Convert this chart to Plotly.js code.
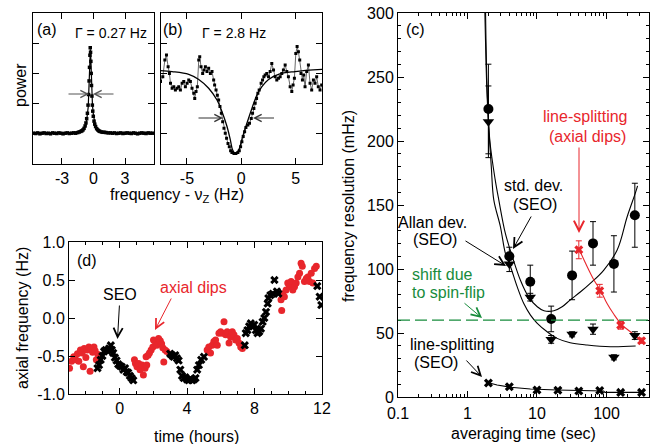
<!DOCTYPE html>
<html><head><meta charset="utf-8">
<script src="https://cdn.plot.ly/plotly-3.0.1.min.js"></script>
<style>html,body{margin:0;padding:0;background:#fff}#chart{width:660px;height:444px}</style>
</head><body><div id="chart"></div>
<script>
// ---------- panel (a): narrow resonance ----------
const aFreq = [-5.7,-5.5,-5.3,-5.1,-4.9,-4.7,-4.5,-4.3,-4.1,-3.9,-3.7,-3.5,-3.3,-3.1,-2.9,-2.7,-2.5,-2.3,-2.1,-1.9,-1.7,-1.5,
  -1.35,-1.2,-1.1,-1.0,-0.9,-0.8,-0.72,-0.65,-0.58,-0.52,-0.47,-0.42,-0.38,-0.34,-0.31,-0.28,-0.25,-0.22,-0.19,-0.15,-0.11,-0.07,-0.02,0.05,0.12,0.2,0.3,0.4,0.5,0.6,0.75,0.9,
  1.05,1.2,1.4,1.6,1.8,2.0,2.2,2.4,2.6,2.8,3.0,3.2,3.4,3.6,3.8,4.0,4.2,4.4,4.6,4.8,5.0,5.2,5.4,5.6];
const aPower = [1.02,1.01,1.03,1.00,1.02,1.03,1.01,1.02,1.00,1.03,1.02,1.01,1.03,1.02,1.00,1.02,1.03,1.01,1.02,1.03,1.02,1.04,
  1.06,1.08,1.10,1.13,1.18,1.26,1.36,1.5,1.68,1.95,2.3,2.75,3.2,3.6,3.85,3.7,3.4,3.0,2.6,2.25,1.95,1.75,1.58,1.42,1.32,1.24,1.17,1.13,1.1,1.08,1.06,1.05,
  1.05,1.04,1.03,1.03,1.02,1.03,1.01,1.02,1.03,1.01,1.02,1.03,1.02,1.01,1.03,1.02,1.00,1.02,1.03,1.02,1.01,1.03,1.02,1.02];
const aFitFreq = [-5.76,-2,-1,-0.7,-0.5,-0.4,-0.34,-0.3,-0.26,-0.2,-0.1,0,0.2,0.5,1,2,5.76];
const aFitPower = [1.02,1.04,1.12,1.3,1.9,2.8,3.55,3.8,3.55,2.85,1.95,1.6,1.25,1.1,1.05,1.03,1.02];

// ---------- panel (b): broad dip ----------
const bFreq = [-7.43,-7.22,-7.03,-6.88,-6.73,-6.61,-6.51,-6.36,-6.21,-6.06,-5.90,-5.75,-5.60,-5.44,-5.29,-5.14,-4.98,-4.83,-4.68,-4.53,-4.37,-4.28,-4.16,-4.04,-3.91,-3.82,-3.70,-3.55,-3.43,-3.30,-3.15,-3.00,-2.84,-2.69,-2.54,-2.45,-2.32,-2.20,-2.08,-1.96,-1.83,-1.71,-1.59,-1.47,-1.35,-1.22,-1.10,-0.98,-0.86,-0.67,-0.49,-0.31,-0.18,-0.06,0.06,0.18,0.31,0.43,0.61,0.76,0.92,1.04,1.16,1.28,1.41,1.53,1.65,1.83,1.96,2.08,2.20,2.35,2.51,2.66,2.81,2.97,3.12,3.27,3.43,3.58,3.73,3.88,4.04,4.19,4.34,4.50,4.65,4.77,4.89,5.02,5.14,5.26,5.38,5.50,5.63,5.75,5.87,6.02,6.18,6.33,6.48,6.64,6.79,6.94,7.09,7.25,7.40];
const bPower = [2.73,2.89,3.44,3.61,3.22,3.00,2.67,2.51,2.56,2.45,2.51,2.56,2.45,2.67,2.73,2.56,2.67,2.78,2.73,2.51,2.34,2.17,2.40,2.56,3.44,3.55,3.22,3.00,3.11,3.22,3.06,3.17,3.00,3.06,2.78,2.62,2.45,2.28,2.12,1.90,1.68,1.40,1.18,1.02,0.85,0.68,0.57,0.44,0.38,0.35,0.35,0.38,0.44,0.57,0.74,0.91,1.07,1.21,1.29,1.35,1.51,1.68,1.84,2.01,2.17,2.34,2.45,2.67,2.78,2.89,2.95,3.00,2.89,3.06,3.33,3.11,2.89,2.78,2.84,2.89,3.00,3.11,3.28,3.06,2.89,2.56,2.40,2.62,2.84,3.66,3.89,3.72,3.44,3.00,2.78,2.95,2.56,3.06,3.28,2.67,2.45,2.78,2.67,2.89,2.56,2.45,2.62];
const bFitFreq = [-7.43,-6.36,-4.83,-3.91,-3.0,-2.23,-1.77,-1.31,-1.0,-0.79,-0.55,-0.24,0.12,0.52,0.98,1.44,1.90,2.51,3.42,4.95,7.43];
const bFitPower = [3.09,3.06,2.97,2.80,2.51,2.12,1.73,1.24,0.79,0.46,0.35,0.46,0.90,1.35,1.84,2.28,2.56,2.80,2.97,3.06,3.13];

// ---------- panel (c): frequency resolution ----------
const tau = [2,4,8,16,32,64,128,256];
const stdDev = [225,110,90,61,95,120,104,142];
const stdDevErr = [35,7,13,10,19,17,22,25];
const allanDev = [215,104,78,45,49,53,31,48];
const allanDevErr = [28,6,3,3,2,4,2,3];
const splitAxialTau = [40,80,160,320];
const splitAxial = [115,83,56,44];
const splitAxialErr = [7,5,3,2];
const splitSeoTau = [2,4,10,20,40,80,160,320];
const splitSeo = [11,8,5.5,5.2,4.7,5,3.6,3.6];
const stdFitTau = [1.82,1.92,2.1,2.5,2.82,3.5,4.4,5.8,7.6,10.1,12.6,17.5,23,30,42,59,91,143,199,263,280];
const stdFit = [300,240,200,170,154,128,110,91,78,70.5,67.4,67.4,70.5,75.8,82,89,99,115,141,160,165];
const allanFitTau = [1.78,1.9,2.0,2.2,2.39,2.98,3.52,4.15,5.2,6.46,8.06,10.1,14,19.5,30,52.6,114,263];
const allanFit = [300,240,215,180,154,133,112,102,86,73,64,57.6,51,45.8,42.4,40.6,39.3,39.8];
const axialFitTau = [40,50,66,84,102,127,168,221,326];
const axialFit = [116,104.5,91.4,82.3,73,64.8,56.2,51,43.2];
const seoFitTau = [2,2.67,4.16,8.06,19.5,47,91,95,330];
const seoFit = [11.2,9.4,7.6,6.25,5.5,5.2,4.7,3.6,3.6];
const spinFlipShift = 60;
const tauMajorTicks = [0.1, 1, 10, 100];
const tauMajorLabels = ['0.1', '1', '10', '100'];
const tauMinorTicks = [0.2,0.3,0.4,0.5,0.6,0.7,0.8,0.9,2,3,4,5,6,7,8,9,20,30,40,50,60,70,80,90,200,300,400];

// ---------- panel (d): axial frequency vs time ----------
const dipsTime = [-2.97,-2.85,-2.72,-2.6,-2.5,-2.42,-2.32,-2.22,-2.15,-2.1,-2.0,-1.92,-1.82,-1.75,-1.68,-1.6,-1.52,-1.45,-1.38,-1.28,
  0.88,0.94,1.03,1.13,1.21,1.33,1.41,1.51,1.57,1.61,1.69,1.77,1.87,1.97,2.01,2.11,2.21,2.31,2.41,2.49,2.56,2.62,2.7,2.8,
  5.19,5.29,5.39,5.49,5.59,5.69,5.79,5.89,5.99,6.09,6.19,6.29,6.38,6.49,6.58,6.68,6.78,6.88,6.98,7.08,7.18,7.28,
  9.57,9.61,9.67,9.77,9.87,9.97,10.07,10.17,10.27,10.37,10.47,10.57,10.67,10.76,10.83,10.96,11.07,11.16,11.26,11.36,11.46,11.56,11.66];
const dipsFreq = [-0.66,-0.57,-0.51,-0.55,-0.47,-0.57,-0.42,-0.46,-0.64,-0.40,-0.52,-0.42,-0.38,-0.70,-0.40,-0.45,-0.38,-0.43,-0.55,-0.48,
  -0.55,-0.60,-0.64,-0.60,-0.68,-0.62,-0.75,-0.66,-0.51,-0.62,-0.49,-0.46,-0.42,-0.38,-0.29,-0.31,-0.36,-0.27,-0.30,-0.34,-0.39,-0.58,-0.42,-0.44,
  -0.42,-0.38,-0.46,-0.36,-0.31,-0.29,-0.36,-0.20,-0.18,-0.20,-0.05,-0.22,-0.18,-0.33,-0.25,-0.18,-0.22,-0.29,-0.27,-0.33,-0.38,-0.40,
  0.24,0.10,0.32,0.28,0.37,0.46,0.41,0.48,0.37,0.41,0.46,0.54,0.59,0.72,0.68,0.48,0.52,0.54,0.48,0.59,0.46,0.65,0.68];
const seoTime = [-1.31,-1.22,-1.12,-1.02,-0.92,-0.82,-0.72,-0.62,-0.52,-0.46,-0.38,-0.28,-0.18,-0.08,0.02,0.12,0.22,0.32,0.42,0.51,0.61,0.71,0.81,
  3.0,3.1,3.2,3.3,3.4,3.5,3.6,3.7,3.8,3.9,4.0,4.1,4.2,4.3,4.4,4.5,4.6,4.7,4.84,5.0,
  7.42,7.48,7.58,7.68,7.78,7.88,7.98,8.08,8.18,8.28,8.38,8.48,8.58,8.68,8.78,8.82,8.94,9.08,9.18,9.33,9.41,
  11.72,11.86,11.96];
const seoFreq = [-0.66,-0.62,-0.55,-0.50,-0.44,-0.42,-0.43,-0.40,-0.36,-0.42,-0.46,-0.52,-0.56,-0.61,-0.63,-0.64,-0.68,-0.66,-0.71,-0.72,-0.76,-0.79,-0.82,
  -0.47,-0.49,-0.51,-0.49,-0.53,-0.56,-0.68,-0.76,-0.79,-0.78,-0.81,-0.82,-0.80,-0.82,-0.81,-0.79,-0.68,-0.62,-0.55,-0.51,
  -0.36,-0.20,-0.16,-0.11,-0.07,-0.11,-0.09,-0.16,-0.20,-0.18,-0.14,-0.05,0.0,0.08,0.19,0.26,0.30,0.32,0.50,0.35,0.32,
  0.42,0.28,0.17];

// ---------- drawing ----------
const W = 660, H = 444;
const px = x => x / W, py = y => 1 - y / H;
const RED = '#e8262c', GREEN = '#178c3c', FONT = 'Liberation Sans, Arial, Helvetica, sans-serif';

const traces = [
  {x: aFreq, y: aPower, xaxis: 'x', yaxis: 'y', mode: 'markers', marker: {symbol: 'square', size: 3.5, color: '#000'}},
  {x: aFitFreq, y: aFitPower, xaxis: 'x', yaxis: 'y', mode: 'lines', line: {color: '#000', width: 1.2}},
  {x: bFreq, y: bPower, xaxis: 'x2', yaxis: 'y2', mode: 'lines+markers', line: {color: '#000', width: 0.6}, marker: {symbol: 'square', size: 3, color: '#000'}},
  {x: bFitFreq, y: bFitPower, xaxis: 'x2', yaxis: 'y2', mode: 'lines', line: {color: '#000', width: 1.3, shape: 'spline'}},
  {x: stdFitTau, y: stdFit, xaxis: 'x3', yaxis: 'y3', mode: 'lines', line: {color: '#000', width: 1.1, shape: 'spline'}},
  {x: allanFitTau, y: allanFit, xaxis: 'x3', yaxis: 'y3', mode: 'lines', line: {color: '#000', width: 1.1, shape: 'spline'}},
  {x: axialFitTau, y: axialFit, xaxis: 'x3', yaxis: 'y3', mode: 'lines', line: {color: RED, width: 1.1, shape: 'spline'}},
  {x: seoFitTau, y: seoFit, xaxis: 'x3', yaxis: 'y3', mode: 'lines', line: {color: '#000', width: 1.1}},
  {x: tau, y: stdDev, xaxis: 'x3', yaxis: 'y3', mode: 'markers', marker: {symbol: 'circle', size: 10, color: '#000'},
   error_y: {type: 'data', array: stdDevErr, color: '#000', thickness: 1, width: 3}},
  {x: tau, y: allanDev, xaxis: 'x3', yaxis: 'y3', mode: 'markers', marker: {symbol: 'triangle-down', size: 10, color: '#000'},
   error_y: {type: 'data', array: allanDevErr, color: '#000', thickness: 1, width: 3}},
  {x: splitAxialTau, y: splitAxial, xaxis: 'x3', yaxis: 'y3', mode: 'markers', marker: {symbol: 'x', size: 8, color: RED},
   error_y: {type: 'data', array: splitAxialErr, color: RED, thickness: 1, width: 3}},
  {x: splitSeoTau, y: splitSeo, xaxis: 'x3', yaxis: 'y3', mode: 'markers', marker: {symbol: 'x', size: 8, color: '#000'}},
  // invisible trace so the minor-tick overlay axis is drawn
  {x: tauMajorTicks, y: [spinFlipShift, spinFlipShift, spinFlipShift, spinFlipShift], xaxis: 'x5', yaxis: 'y3', mode: 'markers', marker: {opacity: 0}, hoverinfo: 'skip'},
  {x: dipsTime, y: dipsFreq, xaxis: 'x4', yaxis: 'y4', mode: 'markers', marker: {symbol: 'circle', size: 7, color: RED}},
  {x: seoTime, y: seoFreq, xaxis: 'x4', yaxis: 'y4', mode: 'markers', marker: {symbol: 'x', size: 7.5, color: '#000'}}
];

const axBase = {showline: true, linecolor: '#000', linewidth: 1, mirror: 'ticks', ticks: 'inside', ticklen: 6,
  tickcolor: '#000', tickwidth: 1, showgrid: false, zeroline: false, tickfont: {family: FONT, size: 16, color: '#000'}, fixedrange: true};
const yA = [py(164), py(13)];
const cDomX = [px(398), px(649)];

const layout = {
  width: W, height: H, margin: {l: 0, r: 0, t: 0, b: 0}, showlegend: false,
  paper_bgcolor: '#fff', plot_bgcolor: 'rgba(0,0,0,0)', font: {family: FONT, size: 16, color: '#000'},
  xaxis: Object.assign({}, axBase, {domain: [px(33), px(154)], range: [-5.76, 5.76], tickvals: [-3, 0, 3], ticktext: ['-3', '0', '3'], anchor: 'y'}),
  yaxis: Object.assign({}, axBase, {domain: yA, range: [0, 5], tickvals: [1, 2, 3, 4], showticklabels: false, anchor: 'x'}),
  xaxis2: Object.assign({}, axBase, {domain: [px(160.5), px(322)], range: [-7.43, 7.43], tickvals: [-5, 0, 5], ticktext: ['-5', '0', '5'], anchor: 'y2'}),
  yaxis2: Object.assign({}, axBase, {domain: yA, range: [0, 5], tickvals: [1, 2, 3, 4], showticklabels: false, anchor: 'x2'}),
  xaxis3: Object.assign({}, axBase, {domain: cDomX, type: 'log', range: [-1, 2.612], tickvals: tauMajorTicks, ticktext: tauMajorLabels, anchor: 'y3', ticklabelstandoff: 2}),
  xaxis5: Object.assign({}, axBase, {domain: cDomX, type: 'log', range: [-1, 2.612], tickvals: tauMinorTicks, showticklabels: false, ticklen: 3,
    overlaying: 'x3', anchor: 'y3', showline: false}),
  yaxis3: Object.assign({}, axBase, {domain: [py(397), py(13)], range: [0, 300], dtick: 50, anchor: 'x3',
    minor: {dtick: 10, ticks: 'inside', ticklen: 3, tickcolor: '#000', showgrid: false}}),
  xaxis4: Object.assign({}, axBase, {domain: [px(69), px(322)], range: [-3, 12], tickvals: [0, 4, 8, 12], anchor: 'y4',
    minor: {dtick: 1, ticks: 'inside', ticklen: 3, tickcolor: '#000', showgrid: false}}),
  yaxis4: Object.assign({}, axBase, {domain: [py(394), py(242)], range: [-1, 1], tickvals: [-1, -0.5, 0, 0.5, 1], ticktext: ['-1.0', '-0.5', '0.0', '0.5', '1.0'], anchor: 'x4'}),
  shapes: [
    {type: 'line', xref: 'x3 domain', yref: 'y3', x0: 0, x1: 1, y0: spinFlipShift, y1: spinFlipShift, line: {color: GREEN, width: 1.3, dash: '12px,5px'}}
  ],
  annotations: []
};

function txt(t, cx, cy, opts) {
  layout.annotations.push(Object.assign({text: t, xref: 'paper', yref: 'paper', x: px(cx), y: py(cy), xanchor: 'center', yanchor: 'middle',
    showarrow: false, font: {family: FONT, size: 16, color: '#000'}}, opts || {}));
}
function arrow(tailX, tailY, tipX, tipY, color, head, size) {
  layout.annotations.push({text: '', xref: 'paper', yref: 'paper', x: px(tipX), y: py(tipY), ax: tailX - tipX, ay: tailY - tipY,
    showarrow: true, arrowhead: head || 5, arrowsize: size || 1.4, arrowwidth: 1, arrowcolor: color || '#000', standoff: 0, startstandoff: 0});
}
// axis titles
txt('power', 21, 85, {textangle: -90});
txt('frequency - ν<sub>Z</sub> (Hz)', 177, 196);
txt('axial frequency (Hz)', 22, 318, {textangle: -90});
txt('time (hours)', 196, 436);
txt('frequency resolution (mHz)', 349, 206, {textangle: -90});
txt('averaging time (sec)', 523, 433);
// panel labels
txt('(a)', 47, 30);
txt('Γ = 0.27 Hz', 111, 33, {font: {family: FONT, size: 14, color: '#000'}});
txt('(b)', 173, 30);
txt('Γ = 2.8 Hz', 234, 33, {font: {family: FONT, size: 14, color: '#000'}});
txt('(c)', 416, 30);
txt('(d)', 87, 260);
// panel (c) notes
txt('line-splitting', 585, 117, {font: {family: FONT, size: 16, color: RED}});
txt('(axial dips)', 587, 136, {font: {family: FONT, size: 16, color: RED}});
txt('std. dev.', 533, 186);
txt('(SEO)', 535, 204);
txt('Allan dev.', 433, 222);
txt('(SEO)', 435, 239);
txt('shift due', 410, 274, {xanchor: 'left', font: {family: FONT, size: 16, color: GREEN}});
txt('to spin-flip', 410, 292, {xanchor: 'left', font: {family: FONT, size: 16, color: GREEN}});
txt('line-splitting', 452, 344);
txt('(SEO)', 436, 362);
// panel (d) notes
txt('SEO', 120, 294);
txt('axial dips', 193, 287, {font: {family: FONT, size: 16, color: RED}});
// arrows
arrow(67, 94, 89, 94, '#555', 5, 1.4);
arrow(115, 94, 93, 94, '#555', 5, 1.4);
arrow(197, 118, 223, 118, '#333', 5, 1.4);
arrow(275.5, 118, 253, 118, '#333', 5, 1.4);
arrow(579, 146, 579, 233, RED, 5, 2.0);
arrow(532, 215, 513, 249, '#000', 5, 1.8);
arrow(464, 240, 506, 266, '#000', 5, 1.8);
arrow(463, 302, 482, 318, GREEN, 5, 1.8);
arrow(465, 359, 482, 377, '#000', 5, 1.8);
arrow(119.5, 304, 117.5, 339, '#000', 5, 1.8);
arrow(172, 297, 155, 330, RED, 5, 1.8);

Plotly.newPlot('chart', traces, layout, {staticPlot: true, displayModeBar: false});
</script>
</body></html>
